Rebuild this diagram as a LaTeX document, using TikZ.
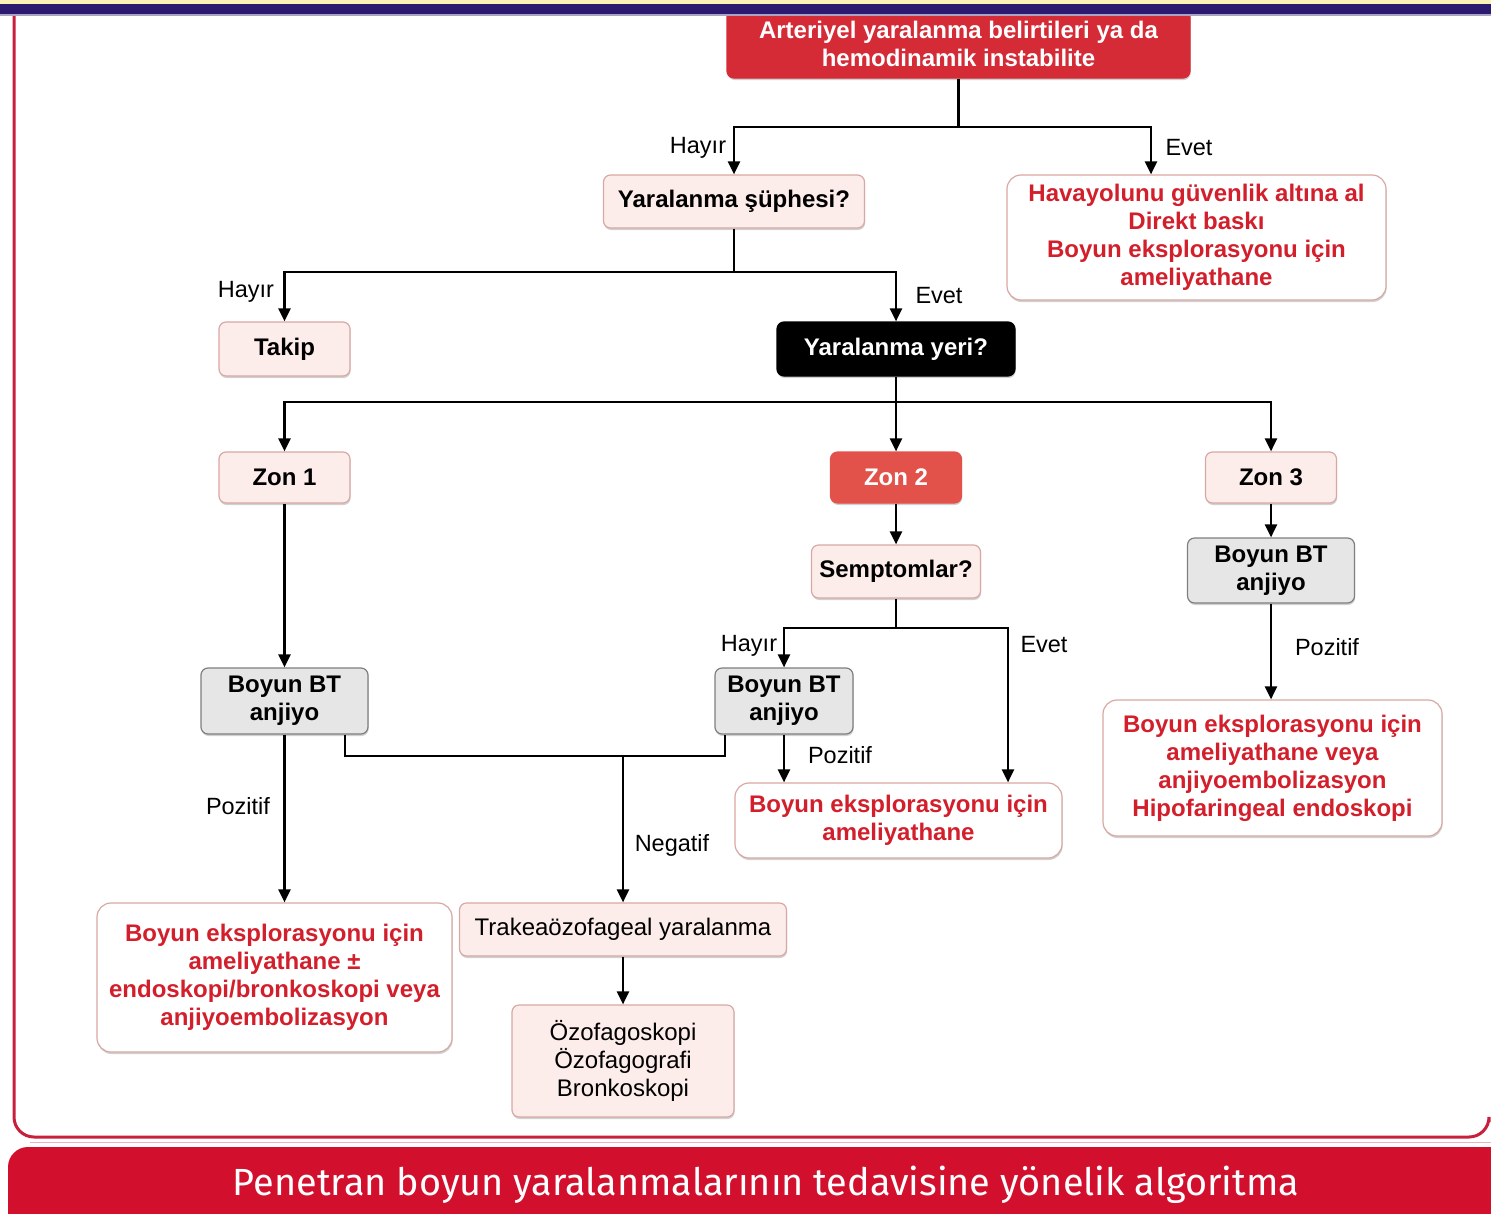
\documentclass[tikz,border=0pt]{standalone}
\usepackage{fontspec}
\setmainfont{Liberation Sans}
\newfontfamily\bannerfont{Fira Sans}
\usetikzlibrary{arrows.meta,shadows}
\definecolor{topred}{HTML}{D42B36}
\definecolor{zontwo}{HTML}{E2524A}
\definecolor{pinkfill}{HTML}{FCECEA}
\definecolor{pinkline}{HTML}{D8A8A4}
\definecolor{grayfill}{HTML}{E6E6E6}
\definecolor{grayline}{HTML}{7F7F7F}
\definecolor{redtext}{HTML}{D21F2B}
\definecolor{framered}{HTML}{C8203C}
\definecolor{bannerred}{HTML}{D2102E}
\definecolor{navy}{HTML}{2B1A6E}
\definecolor{paleyellow}{HTML}{FBF3B5}
\begin{document}
\begin{tikzpicture}[x=1pt,y=-1pt,
  shad/.style={drop shadow={shadow xshift=0.6pt,shadow yshift=-2pt,fill=black!40,opacity=.45}},
  box/.style={rectangle,rounded corners=7pt,draw=pinkline,line width=1.2pt,align=center,
    font=\fontsize{24}{28}\selectfont\bfseries,inner sep=0pt,shad},
  pbox/.style={box,fill=pinkfill,text=black},
  rbox/.style={box,fill=pinkfill,text=black,font=\fontsize{24}{28}\selectfont},
  gbox/.style={box,fill=grayfill,draw=grayline},
  wbox/.style={box,fill=white,text=redtext,rounded corners=14pt},
  lbl/.style={font=\fontsize{23.5}{27}\selectfont,inner sep=0pt},
  ln/.style={draw,line width=2.4pt},
  arr/.style={draw,line width=2.4pt,-{Triangle[length=13pt,width=12pt]}}]
\useasboundingbox (0,0) rectangle (1491,1213);
\clip (0,0) rectangle (1491,1213);
\fill[white] (0,0) rectangle (1491,1213);

% frame
\draw[framered,line width=3pt,rounded corners=20pt] (14,-30) -- (14,1137) -- (1489,1137) -- (1489,1122);
\draw[framered!35,line width=1pt] (30,1142) -- (1491,1142);
% banner
\fill[bannerred,rounded corners=20pt] (8,1147) rectangle (1530,1260);
\node[text=white,font=\bannerfont\fontsize{37.8}{42}\selectfont,inner sep=0pt] (title) at (766,1185) {Penetran boyun yaralanmalarının tedavisine yönelik algoritma};

% top box
\fill[topred] (727,0) rectangle (1190,40);
\node[box,fill=topred,draw=topred,text=white,minimum width=463pt,minimum height=68pt] (top) at (958.5,44) {Arteriyel yaralanma belirtileri ya da\\hemodinamik instabilite};
% top strips
\fill[paleyellow] (0,0) rectangle (1491,4);
\fill[navy] (0,4) rectangle (1491,14);
\fill[navy!40] (0,14) rectangle (1491,16);

% nodes
\node[pbox,minimum width=261pt,minimum height=53pt] (sup) at (734,201.5) {Yaralanma şüphesi?};
\node[wbox,minimum width=379pt,minimum height=125pt] (hav) at (1196.5,237.5) {Havayolunu güvenlik altına al\\Direkt baskı\\Boyun eksplorasyonu için\\ameliyathane};
\node[pbox,minimum width=131pt,minimum height=54pt] (takip) at (284.5,349) {Takip};
\node[box,fill=black,draw=black,text=white,minimum width=238pt,minimum height=54pt] (yeri) at (896,349) {Yaralanma yeri?};
\node[pbox,minimum width=131pt,minimum height=51pt] (z1) at (284.5,477.5) {Zon 1};
\node[box,fill=zontwo,draw=zontwo,text=white,minimum width=131pt,minimum height=51pt] (z2) at (896,477.5) {Zon 2};
\node[pbox,minimum width=131pt,minimum height=51pt] (z3) at (1271,477.5) {Zon 3};
\node[pbox,minimum width=169pt,minimum height=53pt] (semp) at (896,571.5) {Semptomlar?};
\node[gbox,minimum width=167pt,minimum height=65pt] (bt3) at (1271,570.5) {Boyun BT\\anjiyo};
\node[wbox,minimum width=339pt,minimum height=136pt] (ex3) at (1272.5,768) {Boyun eksplorasyonu için\\ameliyathane veya\\anjiyoembolizasyon\\Hipofaringeal endoskopi};
\node[gbox,minimum width=167pt,minimum height=66pt] (bt1) at (284.5,701) {Boyun BT\\anjiyo};
\node[gbox,minimum width=138pt,minimum height=66pt] (bt2) at (784,701) {Boyun BT\\anjiyo};
\node[wbox,minimum width=327pt,minimum height=75pt] (ex2) at (898.5,820.5) {Boyun eksplorasyonu için\\ameliyathane};
\node[wbox,minimum width=355pt,minimum height=149pt] (ex1) at (274.5,977.5) {Boyun eksplorasyonu için\\ameliyathane ±\\endoskopi/bronkoskopi veya\\anjiyoembolizasyon};
\node[rbox,minimum width=327pt,minimum height=53pt] (tr) at (623,929.5) {Trakeaözofageal yaralanma};
\node[rbox,minimum width=222pt,minimum height=112pt] (oz) at (623,1061) {Özofagoskopi\\Özofagografi\\Bronkoskopi};

% helper coordinates
\coordinate (j1) at (958.5,127);
\coordinate (j2) at (734,272);
\coordinate (j3) at (896,402);
\coordinate (j4) at (896,628);
\coordinate (xr) at (1008,0);
\coordinate (xh) at (1151,0);
\coordinate (nl) at (345,756);
\coordinate (nr) at (725,756);
\coordinate (nm) at (623,756);

% connectors
\draw[ln] (top.south) -- (j1);
\draw[arr] (j1) -| (sup.north);
\draw[arr] (j1) -| (hav.north -| xh);
\draw[ln] (sup.south) -- (j2);
\draw[arr] (j2) -| (takip.north);
\draw[arr] (j2) -| (yeri.north);
\draw[ln] (yeri.south) -- (j3);
\draw[arr] (j3) -| (z1.north);
\draw[arr] (j3) -- (z2.north);
\draw[arr] (j3) -| (z3.north);
\draw[arr] (z2.south) -- (semp.north);
\draw[arr] (z3.south) -- (bt3.north);
\draw[arr] (bt3.south) -- (bt3.south |- ex3.north);
\draw[ln] (semp.south) -- (j4);
\draw[arr] (j4) -| (bt2.north);
\draw[arr] (j4) -| (ex2.north -| xr);
\draw[arr] (bt2.south) -- (bt2.south |- ex2.north);
\draw[arr] (z1.south) -- (bt1.north);
\draw[arr] (bt1.south) -- (bt1.south |- ex1.north);
\draw[ln] (bt1.south -| nl) -- (nl) -- (nr) -- (bt2.south -| nr);
\draw[arr] (nm) -- (tr.north);
\draw[arr] (tr.south) -- (oz.north);

% labels
\node[lbl] (h1) at (698,148) {Hayır};
\node[lbl] (e1) at (1189,148) {Evet};
\node[lbl] (h2) at (246,292) {Hayır};
\node[lbl] (e2) at (939,296) {Evet};
\node[lbl] (h3) at (749,646) {Hayır};
\node[lbl] (e3) at (1044,645) {Evet};
\node[lbl] (p2) at (840,755) {Pozitif};
\node[lbl] (p1) at (238,806) {Pozitif};
\node[lbl] (p3) at (1327,647) {Pozitif};
\node[lbl] (ng) at (672,845) {Negatif};
\end{tikzpicture}
\end{document}
